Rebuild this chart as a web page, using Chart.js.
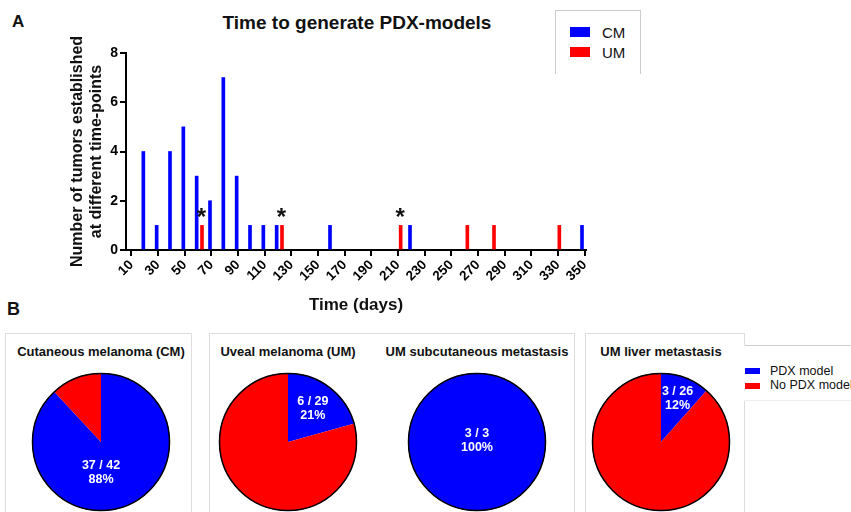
<!DOCTYPE html>
<html>
<head>
<meta charset="utf-8">
<script src="https://cdn.jsdelivr.net/npm/chart.js@4.4.0/dist/chart.umd.min.js"></script>
<style>
  body { margin: 0; width: 851px; height: 512px; overflow: hidden; background: #fff; position: relative;
         font-family: "Liberation Sans", Arial, sans-serif; color: #111; }
  .abs { position: absolute; white-space: nowrap; line-height: 1; }
  .box { position: absolute; border: 1px solid #ddd; box-sizing: border-box; }
  .ptitle { position: absolute; font-weight: bold; font-size: 13px; line-height: 1; transform: translateX(-50%); white-space: nowrap; }
  canvas { position: absolute; }
</style>
</head>
<body>

<div class="abs" style="left:12px;top:13px;font-size:17px;font-weight:bold">A</div>
<div class="abs" style="left:357px;top:13px;font-size:19px;font-weight:bold;transform:translateX(-50%)">Time to generate PDX-models</div>
<div id="legendTop" class="box" style="left:555px;top:10px;width:86px;height:64px;border-bottom:none;border-color:#ccc"></div>
<canvas id="bar" width="530" height="300" style="left:60px;top:30px"></canvas>

<div class="abs" style="left:7px;top:300px;font-size:18px;font-weight:bold">B</div>
<div class="box" style="left:5px;top:333px;width:187px;height:200px"></div>
<div class="box" style="left:209px;top:333px;width:366px;height:200px"></div>
<div class="box" style="left:585px;top:333px;width:160px;height:200px"></div>
<div id="legendPie" class="box" style="left:744px;top:345px;width:120px;height:56px;background:#fff;border-color:#ccc #fff #eee #fff"></div>
<div id="pies"></div>

<script>
// panel A: time to generate PDX models
const seriesNames = ['CM', 'UM'];
const seriesColors = ['#0000ff', '#ff0000'];
const cmDays   = [19, 29, 39, 49, 59, 69, 79, 89, 99, 109, 119, 159, 219, 348];
const cmCounts = [4, 1, 4, 5, 3, 2, 7, 3, 1, 1, 1, 1, 1, 1];
const umDays   = [63, 123, 212, 262, 282, 331];
const umCounts = [1, 1, 1, 1, 1, 1];
const starredUm = [0, 1, 2];   // UM bars marked with *
const xTickValues = [10, 30, 50, 70, 90, 110, 130, 150, 170, 190, 210, 230, 250, 270, 290, 310, 330, 350];
const yTickValues = [0, 2, 4, 6, 8];

// panel B: PDX take rate
const pieTitles = ['Cutaneous melanoma (CM)', 'Uveal melanoma (UM)', 'UM subcutaneous metastasis', 'UM liver metastasis'];
const pdxCounts = [37, 6, 3, 3];
const totalCounts = [42, 29, 3, 26];
const pieLegendNames = ['PDX model', 'No PDX model'];

Chart.defaults.font.family = '"Liberation Sans", Arial, sans-serif';
Chart.defaults.color = '#000';
Chart.defaults.animation = false;

// top legend
let lt = document.getElementById('legendTop');
seriesNames.forEach(function(name, i) {
  lt.innerHTML += '<div class="abs" style="left:14px;top:' + (16 + i * 19.5) + 'px;width:20px;height:10px;background:' + seriesColors[i] + '"></div>' +
    '<div class="abs" style="left:46px;top:' + (14 + i * 19.5) + 'px;font-size:15px">' + name + '</div>';
});

// asterisks over UM bars
const stars = {
  id: 'stars',
  afterDatasetsDraw(chart) {
    const meta = chart.getDatasetMeta(1);
    const ctx = chart.ctx;
    ctx.save();
    ctx.font = 'bold 24px "Liberation Sans", Arial';
    ctx.fillStyle = '#111';
    ctx.textAlign = 'center';
    ctx.textBaseline = 'alphabetic';
    starredUm.forEach(function(i) {
      const b = meta.data[i];
      ctx.fillText('*', b.x - 0.5, b.y);
    });
    ctx.restore();
  }
};

new Chart(document.getElementById('bar'), {
  type: 'bar',
  data: {
    datasets: [
      { label: seriesNames[0], data: cmDays.map((d, i) => ({x: d, y: cmCounts[i]})), backgroundColor: seriesColors[0] },
      { label: seriesNames[1], data: umDays.map((d, i) => ({x: d, y: umCounts[i]})), backgroundColor: seriesColors[1] }
    ]
  },
  options: {
    responsive: false,
    events: [],
    grouped: false,
    barThickness: 3,
    layout: { padding: { top: 23, right: 4, left: 0, bottom: 0 } },
    plugins: { legend: { display: false }, tooltip: { enabled: false } },
    scales: {
      x: {
        type: 'linear', min: 6, max: 351, offset: false,
        grid: { offset: false, drawOnChartArea: false, color: '#000', lineWidth: 2, tickLength: 6 },
        border: { color: '#000', width: 2 },
        ticks: { autoSkip: false, minRotation: 45, maxRotation: 45, padding: 1, font: { size: 13.5, weight: 'bold' } },
        afterBuildTicks: s => { s.ticks = xTickValues.map(v => ({value: v})); },
        afterFit: s => { s.height = 80; s.paddingLeft = 0; s.paddingRight = 0; },
        title: { display: true, text: 'Time (days)', color: '#111', font: { size: 17, weight: 'bold', lineHeight: 1.2 }, padding: { top: 0, bottom: 14 } }
      },
      y: {
        min: 0, max: 8,
        grid: { drawOnChartArea: false, color: '#000', lineWidth: 2, tickLength: 6 },
        border: { color: '#000', width: 2 },
        ticks: { padding: 2, font: { size: 14, weight: 'bold' } },
        afterBuildTicks: s => { s.ticks = yTickValues.map(v => ({value: v})); },
        afterFit: s => { s.width = 66; s.paddingTop = 0; s.paddingBottom = 0; },
        title: { display: true, text: ['Number of tumors established', 'at different time-points'], color: '#111',
                 font: { size: 16, weight: 'bold', lineHeight: 1.2 }, padding: { top: 8, bottom: 0 } }
      }
    }
  },
  plugins: [stars]
});

// pies
const pieCenters = [[101, 442], [288, 442], [477, 442], [661, 442]];
const labelOffsets = [[0, 0.44], [0.36, -0.48], [0, -0.025], [0.24, -0.635]];

const pieDeco = {
  id: 'pieDeco',
  afterDatasetsDraw(chart, args, opts) {
    const arc = chart.getDatasetMeta(0).data[0];
    const ctx = chart.ctx;
    ctx.save();
    ctx.beginPath();
    ctx.arc(arc.x, arc.y, arc.outerRadius - 0.5, 0, Math.PI * 2);
    ctx.lineWidth = 1.5;
    ctx.strokeStyle = '#000';
    ctx.stroke();
    ctx.fillStyle = '#fff';
    ctx.font = 'bold 12.5px "Liberation Sans", Arial';
    ctx.textAlign = 'center';
    ctx.textBaseline = 'middle';
    const x = arc.x + opts.dx * arc.outerRadius;
    const y = arc.y + opts.dy * arc.outerRadius;
    ctx.fillText(opts.lines[0], x, y - 7);
    ctx.fillText(opts.lines[1], x, y + 7);
    ctx.restore();
  }
};

let pies = document.getElementById('pies');
pieTitles.forEach(function(t, i) {
  let c = pieCenters[i];
  let title = document.createElement('div');
  title.className = 'ptitle';
  title.style.left = c[0] + 'px';
  title.style.top = '345px';
  title.textContent = t;
  pies.appendChild(title);

  let cv = document.createElement('canvas');
  cv.width = 150; cv.height = 150;
  cv.style.left = (c[0] - 75) + 'px';
  cv.style.top = (c[1] - 75) + 'px';
  pies.appendChild(cv);

  let pct = Math.round(100 * pdxCounts[i] / totalCounts[i]);
  new Chart(cv, {
    type: 'pie',
    data: {
      labels: pieLegendNames,
      datasets: [{ data: [pdxCounts[i], totalCounts[i] - pdxCounts[i]], backgroundColor: seriesColors, borderWidth: 0 }]
    },
    options: {
      responsive: false,
      events: [],
      radius: 69,
      plugins: {
        legend: { display: false }, tooltip: { enabled: false },
        pieDeco: { dx: labelOffsets[i][0], dy: labelOffsets[i][1], lines: [pdxCounts[i] + ' / ' + totalCounts[i], pct + '%'] }
      }
    },
    plugins: [pieDeco]
  });
});

// pie legend
let lp = document.getElementById('legendPie');
pieLegendNames.forEach(function(name, i) {
  lp.innerHTML += '<div class="abs" style="left:0px;top:' + (22 + i * 14.5) + 'px;width:15px;height:6px;background:' + seriesColors[i] + '"></div>' +
    '<div class="abs" style="left:25px;top:' + (18.5 + i * 14.2) + 'px;font-size:12.5px">' + name + '</div>';
});
</script>
</body>
</html>
